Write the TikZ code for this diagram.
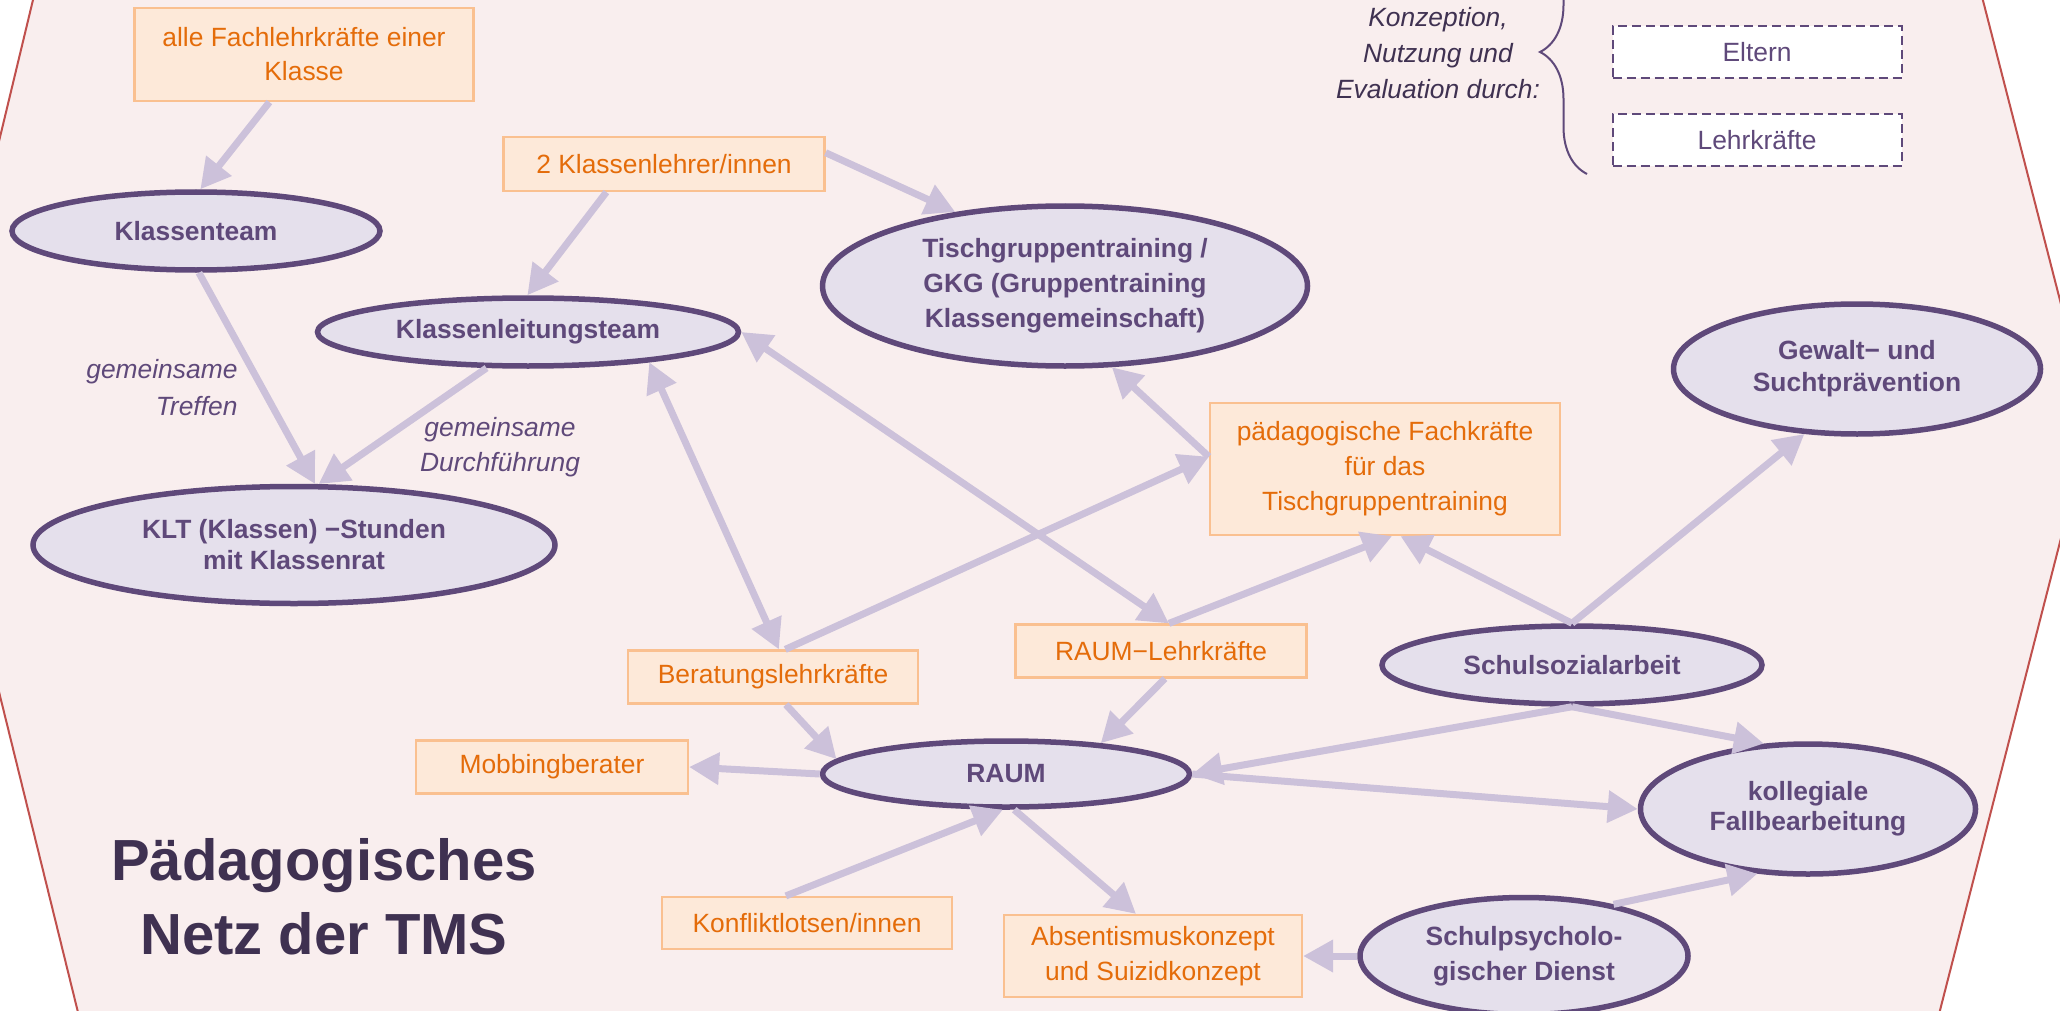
\documentclass[tikz,border=0pt]{standalone}
\usepackage{fontspec}
\setmainfont{Liberation Sans}
\usetikzlibrary{shapes.geometric, arrows.meta, decorations.pathreplacing}

\definecolor{hintergrund}{RGB}{249,238,238}
\definecolor{rahmen}{RGB}{192,80,77}
\definecolor{kastenfill}{RGB}{253,233,217}
\definecolor{kastenlinie}{RGB}{250,192,144}
\definecolor{kastentext}{RGB}{228,108,10}
\definecolor{ovalfill}{RGB}{229,224,236}
\definecolor{lila}{RGB}{95,73,122}
\definecolor{pfeilfarbe}{RGB}{204,193,218}
\definecolor{dunkellila}{RGB}{63,49,81}

\newcommand{\zeilen}[1]{\fontsize{26.4}{#1}\selectfont}

\begin{document}
\begin{tikzpicture}[x=1pt, y=1pt, yscale=-1, xscale=1,
  stelle/.style={draw=kastenlinie, fill=kastenfill, text=kastentext, line width=2.2pt, inner sep=0pt, align=center, font=\zeilen{34}},
  gremium/.style={ellipse, draw=lila, fill=ovalfill, text=lila, line width=5.5pt, inner sep=0pt, align=center, font=\zeilen{34}\bfseries},
  gast/.style={draw=lila, fill=white, text=lila, line width=2pt, dash pattern=on 9pt off 5pt, inner sep=0pt, minimum width=289pt, minimum height=52pt, font=\zeilen{34}},
  notiz/.style={text=lila, align=center, font=\zeilen{35}\itshape},
  pfeil/.style={draw=pfeilfarbe, line width=7pt, -{Triangle[length=30pt, width=31pt]}},
  doppelpfeil/.style={pfeil, {Triangle[length=30pt, width=31pt]}-{Triangle[length=30pt, width=31pt]}}]
\useasboundingbox (0, 0) rectangle (2060, 1011);
\fill [white] (0, 0) rectangle (2060, 1011);
\begin{scope}
\clip (0, 0) rectangle (2060, 1011);
\draw [rahmen, line width=2pt, fill=hintergrund] (45, -50) -- (1970, -50) -- (2091, 421) -- (1927, 1061) -- (90, 1061) -- (-68, 420) -- cycle;
\end{scope}
%Kaesten
\draw (304, 54.5) node (alle) [stelle, minimum width=339pt, minimum height=93pt] {alle Fachlehrkräfte einer\\Klasse};
\draw (664, 164) node (klehrer) [stelle, minimum width=321pt, minimum height=54pt] {2 Klassenlehrer/innen};
\draw (1385, 469) node (paedfach) [stelle, minimum width=350pt, minimum height=132pt, font=\zeilen{35}] {pädagogische Fachkräfte\\für das\\Tischgruppentraining};
\draw (773, 677) node (beratung) [stelle, minimum width=290pt, minimum height=53pt] {Beratungslehrkräfte};
\draw (1161, 651) node (raumlk) [stelle, minimum width=291pt, minimum height=53pt] {RAUM−Lehrkräfte};
\draw (552, 767) node (mobbing) [stelle, minimum width=272pt, minimum height=53pt] {Mobbingberater};
\draw (807, 923) node (konflikt) [stelle, minimum width=290pt, minimum height=52pt] {Konfliktlotsen/innen};
\draw (1153, 956) node (absent) [stelle, minimum width=298pt, minimum height=82pt, font=\zeilen{35}] {Absentismuskonzept\\und Suizidkonzept};
%Ovale
\draw (196, 231) node (klassenteam) [gremium, minimum width=368pt, minimum height=78pt] {Klassenteam};
\draw (528, 332) node (kleitung) [gremium, minimum width=421pt, minimum height=68pt] {Klassenleitungsteam};
\draw (294, 545) node (kltstunden) [gremium, minimum width=522pt, minimum height=117pt, font=\zeilen{31}\bfseries] {KLT (Klassen) −Stunden\\mit Klassenrat};
\draw (1065, 286) node (tisch) [gremium, minimum width=485pt, minimum height=160pt, font=\zeilen{35}\bfseries] {Tischgruppentraining /\\GKG (Gruppentraining\\Klassengemeinschaft)};
\draw (1857, 369) node (gewalt) [gremium, minimum width=367pt, minimum height=130pt, font=\zeilen{32}\bfseries] {Gewalt− und\\Suchtprävention};
\draw (1572, 665) node (sozial) [gremium, minimum width=380pt, minimum height=78pt] {Schulsozialarbeit};
\draw (1006, 774) node (raum) [gremium, minimum width=367pt, minimum height=66pt] {RAUM};
\draw (1808, 809) node (kollegial) [gremium, minimum width=335pt, minimum height=130pt, font=\zeilen{30}\bfseries] {kollegiale\\Fallbearbeitung};
\draw (1524, 956) node (psych) [gremium, minimum width=328pt, minimum height=117pt, font=\zeilen{35}\bfseries] {Schulpsycholo-\\gischer Dienst};
%Text
\draw (241, 388) node (treffen) [notiz, anchor=east, align=right, font=\zeilen{37}\itshape] {gemeinsame\\Treffen};
\draw (500, 447) node (durchf) [notiz] {gemeinsame\\Durchführung};
\draw (1438, 53) node (konzeption) [notiz, text=dunkellila, font=\zeilen{36}\itshape] {Konzeption,\\Nutzung und\\Evaluation durch:};
\draw (324, 897) node (titel) [text=dunkellila, align=center, font=\fontsize{58}{74}\selectfont\bfseries] {Pädagogisches\\Netz der TMS};
\draw (1757, 52) node (eltern) [gast] {Eltern};
\draw (1757, 140) node (lehrkr) [gast] {Lehrkräfte};
\draw [lila, line width=2pt, decorate, decoration={brace, amplitude=47pt}] (1587, 174) -- (1587, -70);
%Pfeile
\draw [pfeil] (alle.234) -- (klassenteam.84);
\draw [pfeil] (klassenteam.274) -- (kltstunden.71);
\draw [pfeil] (kleitung.221) -- (kltstunden.68);
\draw [pfeil] (klehrer.206) -- (kleitung.91);
\draw [pfeil] (klehrer.4) -- (tisch.146);
\draw [doppelpfeil] (kleitung.east) -- (raumlk.74);
\draw [doppelpfeil] (kleitung.346) -- (beratung.78);
\draw [pfeil] (beratung.66) -- (paedfach.176);
\draw [pfeil] (paedfach.176) -- (tisch.300);
\draw [pfeil] (raumlk.74) -- (paedfach.276);
\draw [pfeil] (sozial.north) -- (paedfach.283);
\draw [pfeil] (sozial.north) -- (gewalt.231);
\draw [pfeil] (sozial.south) -- (raum.east);
\draw [pfeil] (sozial.south) -- (kollegial.124);
\draw [pfeil] (raum.east) -- (kollegial.west);
\draw [pfeil] (raumlk.278) -- (raum.18);
\draw [pfeil] (beratung.295) -- (raum.175);
\draw [pfeil] (raum.west) -- (mobbing.east);
\draw [pfeil] (konflikt.128) -- (raum.265);
\draw [pfeil] (raum.283) -- (absent.112);
\draw [pfeil] (psych.west) -- (absent.east);
\draw [pfeil] (psych.30) -- (kollegial.232);
\end{tikzpicture}
\end{document}
